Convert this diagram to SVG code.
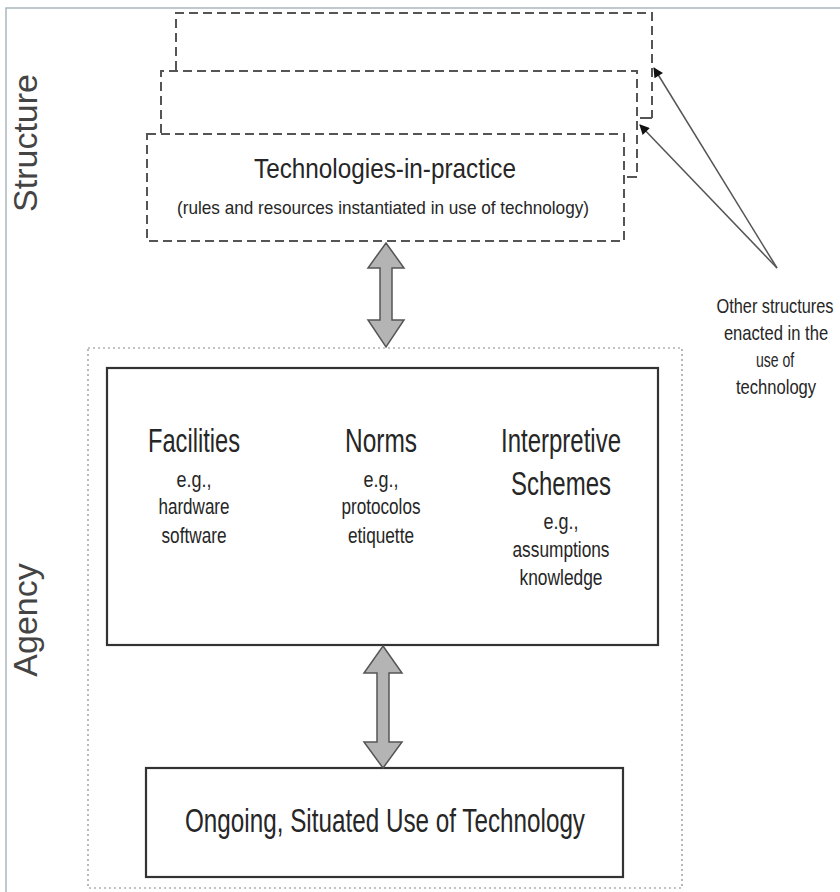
<svg xmlns="http://www.w3.org/2000/svg" width="840" height="892" viewBox="0 0 840 892">
<style>
.frame{fill:none;stroke:#a9b6bd;stroke-width:1.5}
.dash{fill:none;stroke:#555;stroke-width:2;stroke-dasharray:9 5}
.dot{fill:none;stroke:#8a8a8a;stroke-width:1.2;stroke-dasharray:2 3}
.solid{fill:#fff;stroke:#333;stroke-width:2.2}
.t{font-family:"Liberation Sans Narrow","Liberation Sans",Arial,sans-serif;fill:#262626;text-anchor:middle}
.big{font-size:33px}
.small{font-size:22px}
.note{font-size:21px}
.side{font-family:"Liberation Sans",Arial,sans-serif;font-size:34px;fill:#444;text-anchor:middle}
.dbl{fill:#b4b4b4;stroke:#555;stroke-width:1.5;stroke-linejoin:miter}
.lead{fill:none;stroke:#555;stroke-width:1.5}
</style>
<defs>
<marker id="ah" viewBox="0 0 10 10" refX="9" refY="5" markerWidth="11" markerHeight="10" markerUnits="userSpaceOnUse" orient="auto">
<path d="M0,0 L10,5 L0,10 z" fill="#111"/>
</marker>
</defs>
<rect width="840" height="892" fill="#fff"/>
<path class="frame" d="M6,892 V8 H840"/>

<g id="label-structure"><text class="side" transform="translate(37,143) rotate(-90)">Structure</text></g>
<g id="label-agency"><text class="side" transform="translate(37,620) rotate(-90)">Agency</text></g>

<g id="structure-back">
<path class="dash" d="M176,70 V13 H652 V118"/>
<path d="M640,118 H652" stroke="#555" stroke-width="2"/>
</g>
<g id="structure-middle">
<path class="dash" d="M161,133 V71 H637 V177"/>
<path d="M627,177 H637" stroke="#555" stroke-width="2"/>
</g>
<g id="technologies-in-practice">
<rect class="dash" x="147" y="134" width="477" height="107" fill="#fff"/>
<text class="t" style="font-size:28px" x="385" y="178" textLength="262" lengthAdjust="spacingAndGlyphs">Technologies-in-practice</text>
<text class="t" style="font-size:19px" x="383" y="214" textLength="412" lengthAdjust="spacingAndGlyphs">(rules and resources instantiated in use of technology)</text>
</g>

<g id="agency-area">
<rect class="dot" x="88" y="348" width="594" height="540"/>
</g>

<g id="modalities">
<rect class="solid" x="107" y="368" width="551" height="277"/>
<text class="t big" x="194" y="452" textLength="92" lengthAdjust="spacingAndGlyphs">Facilities</text>
<text class="t small" x="194" y="487" textLength="35" lengthAdjust="spacingAndGlyphs">e.g.,</text>
<text class="t small" x="194" y="514" textLength="71" lengthAdjust="spacingAndGlyphs">hardware</text>
<text class="t small" x="194" y="543" textLength="65" lengthAdjust="spacingAndGlyphs">software</text>
<text class="t big" x="381" y="452" textLength="72" lengthAdjust="spacingAndGlyphs">Norms</text>
<text class="t small" x="381" y="487" textLength="35" lengthAdjust="spacingAndGlyphs">e.g.,</text>
<text class="t small" x="381" y="514" textLength="79" lengthAdjust="spacingAndGlyphs">protocolos</text>
<text class="t small" x="381" y="543" textLength="66" lengthAdjust="spacingAndGlyphs">etiquette</text>
<text class="t big" x="561" y="452" textLength="120" lengthAdjust="spacingAndGlyphs">Interpretive</text>
<text class="t big" x="561" y="495" textLength="100" lengthAdjust="spacingAndGlyphs">Schemes</text>
<text class="t small" x="561" y="529" textLength="35" lengthAdjust="spacingAndGlyphs">e.g.,</text>
<text class="t small" x="561" y="557" textLength="97" lengthAdjust="spacingAndGlyphs">assumptions</text>
<text class="t small" x="561" y="585" textLength="83" lengthAdjust="spacingAndGlyphs">knowledge</text>
</g>

<g id="ongoing-use">
<rect class="solid" x="146" y="768" width="477" height="109"/>
<text class="t" style="font-size:34px" x="385" y="832" textLength="400" lengthAdjust="spacingAndGlyphs">Ongoing, Situated Use of Technology</text>
</g>

<g id="other-structures-label">
<text class="t note" transform="translate(775,313) scale(0.75,1)" textLength="156" lengthAdjust="spacingAndGlyphs">Other structures</text>
<text class="t note" transform="translate(776,340) scale(0.75,1)" textLength="139" lengthAdjust="spacingAndGlyphs">enacted in the</text>
<text class="t note" transform="translate(775,367) scale(0.75,1)" textLength="51" lengthAdjust="spacingAndGlyphs">use of</text>
<text class="t note" transform="translate(776,394) scale(0.75,1)" textLength="107" lengthAdjust="spacingAndGlyphs">technology</text>
</g>

<g id="connectors">
<polygon class="dbl" points="386,243 404,268 392,268 392,320 404,320 386,347 368,320 380,320 380,268 368,268"/>
<polygon class="dbl" points="383,646 402,673 389,673 389,742 402,742 383,768 364,742 377,742 377,673 364,673"/>
<line class="lead" x1="777" y1="268" x2="654" y2="68" marker-end="url(#ah)"/>
<line class="lead" x1="777" y1="268" x2="640" y2="125" marker-end="url(#ah)"/>
</g>
</svg>
